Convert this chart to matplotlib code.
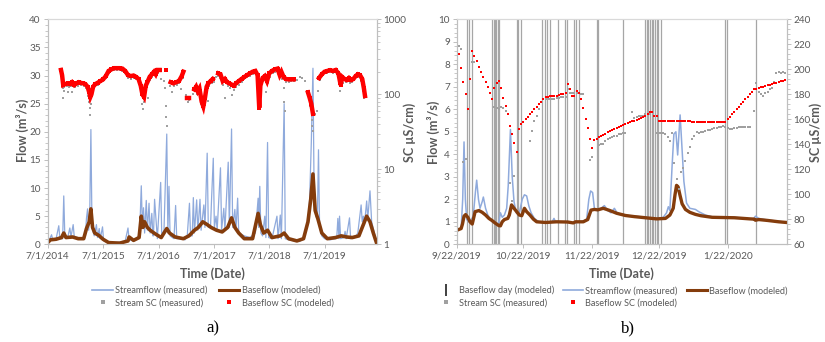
import matplotlib
matplotlib.use("Agg")
import matplotlib.pyplot as plt
import numpy as np
import pandas as pd
from matplotlib.lines import Line2D
from matplotlib.ticker import MultipleLocator, LogLocator, NullFormatter, FixedLocator

plt.rcParams["font.family"] = ["Lato", "DejaVu Sans"]

TXT = "#595959"
AXC = "#bfbfbf"
BLUE = "#8faadc"
BROWN = "#843c0c"
GRAY = "#a0a0a0"
RED = "#ff0000"

# ---------------- panel a (time in years after 7/1/2014) ----------------
start_a = pd.Timestamp("2014-07-01")

sf_a_yr = [0.00, 0.03, 0.07, 0.09, 0.15, 0.20, 0.22, 0.27, 0.29, 0.31, 0.36, 0.40, 0.42, 0.46, 0.48,
           0.55, 0.62, 0.68, 0.70, 0.72, 0.74, 0.76, 0.78, 0.80, 0.84, 0.88, 0.90, 0.93, 0.95, 0.99,
           1.01, 1.10, 1.20, 1.30, 1.40, 1.45, 1.47, 1.55, 1.62, 1.66, 1.69, 1.71, 1.73, 1.75, 1.78,
           1.80, 1.83, 1.85, 1.88, 1.90, 1.91, 1.93, 1.98, 2.04, 2.06, 2.10, 2.15, 2.17, 2.19, 2.21,
           2.28, 2.31, 2.33, 2.40, 2.48, 2.52, 2.56, 2.58, 2.61, 2.63, 2.65, 2.69, 2.71, 2.73, 2.75,
           2.77, 2.82, 2.84, 2.88, 2.90, 2.94, 2.96, 2.99, 3.01, 3.04, 3.06, 3.12, 3.14, 3.18, 3.20,
           3.26, 3.28, 3.32, 3.34, 3.38, 3.40, 3.43, 3.45, 3.55, 3.65, 3.75, 3.80, 3.81, 3.83, 3.85,
           3.88, 3.92, 3.94, 3.97, 3.99, 4.05, 4.14, 4.16, 4.20, 4.22, 4.27, 4.29, 4.35, 4.45, 4.55,
           4.62, 4.66, 4.70, 4.73, 4.76, 4.79, 4.81, 4.84, 4.87, 4.89, 4.91, 4.95, 5.00, 5.10, 5.20,
           5.22, 5.24, 5.26, 5.27, 5.29, 5.35, 5.37, 5.39, 5.45, 5.47, 5.55, 5.60, 5.66, 5.68, 5.70,
           5.72, 5.76, 5.78, 5.82, 5.85, 5.90, 5.94]
sf_a_q = [0.3, 0.8, 1.7, 0.8, 0.9, 3.3, 1.0, 1.0, 8.6, 1.2, 1.2, 2.9, 1.3, 3.5, 1.3,
          1.2, 1.0, 1.5, 4.6, 6.3, 2.5, 6.0, 20.4, 3.0, 1.5, 3.5, 1.2, 2.8, 1.0, 3.1,
          0.6, 0.4, 0.3, 0.4, 0.6, 2.9, 0.8, 0.6, 1.0, 2.0, 10.4, 3.0, 6.5, 2.0, 7.8,
          2.5, 7.3, 2.0, 5.5, 1.5, 1.5, 8.0, 1.0, 11.0, 1.5, 2.5, 19.6, 2.0, 10.3, 1.5,
          1.0, 6.9, 1.0, 1.0, 0.8, 1.5, 7.3, 1.5, 1.5, 8.3, 2.0, 7.9, 2.5, 5.0, 8.0,
          2.5, 7.0, 3.0, 16.2, 3.0, 3.0, 8.3, 15.3, 3.0, 5.0, 2.5, 13.6, 2.5, 6.4, 2.5,
          14.6, 3.0, 20.5, 3.0, 6.2, 2.5, 8.2, 2.0, 1.5, 1.2, 2.0, 8.2, 3.0, 10.3, 2.0,
          1.5, 5.0, 1.2, 18.1, 1.2, 1.0, 5.0, 1.0, 5.2, 1.0, 25.0, 1.0, 0.8, 0.6, 0.5,
          1.0, 2.5, 4.0, 8.0, 18.0, 31.3, 10.0, 5.0, 4.5, 16.8, 3.0, 1.5, 1.0, 0.8, 1.0,
          1.2, 4.6, 1.0, 5.0, 1.0, 1.2, 2.3, 1.0, 4.7, 1.0, 1.2, 2.0, 7.0, 4.0, 5.0,
          3.5, 7.7, 4.5, 9.5, 4.0, 2.0, 0.2]

bf_a_yr = [0.00, 0.05, 0.15, 0.25, 0.29, 0.33, 0.45, 0.55, 0.65, 0.70, 0.75, 0.78, 0.81, 0.85,
           0.92, 1.00, 1.10, 1.30, 1.45, 1.47, 1.55, 1.65, 1.69, 1.72, 1.75, 1.80, 1.85, 1.92,
           2.00, 2.05, 2.15, 2.20, 2.30, 2.45, 2.55, 2.65, 2.72, 2.80, 2.88, 2.95, 3.05, 3.15,
           3.25, 3.32, 3.38, 3.45, 3.55, 3.70, 3.80, 3.84, 3.90, 3.97, 4.05, 4.20, 4.27, 4.35,
           4.50, 4.62, 4.70, 4.75, 4.79, 4.83, 4.88, 4.95, 5.05, 5.20, 5.30, 5.40, 5.50, 5.62,
           5.70, 5.76, 5.82, 5.88, 5.94]
bf_a_q = [0.3, 0.8, 0.9, 1.2, 2.0, 1.2, 1.3, 1.0, 1.0, 2.8, 4.0, 6.3, 3.0, 2.0,
          1.6, 0.9, 0.3, 0.2, 0.6, 1.3, 0.7, 1.2, 5.0, 3.0, 4.0, 3.0, 2.5, 2.0,
          1.5, 1.2, 2.8, 2.0, 1.3, 1.0, 1.5, 2.5, 3.0, 4.0, 3.5, 3.0, 2.5, 2.2,
          3.0, 4.7, 3.0, 2.0, 1.0, 1.0, 5.5, 3.5, 2.0, 2.5, 1.2, 1.5, 2.0, 1.0,
          0.6, 1.0, 4.0, 8.0, 12.5, 6.0, 4.5, 2.0, 1.0, 1.2, 1.5, 1.3, 1.2, 1.5,
          3.5, 5.0, 4.0, 2.0, 0.2]

# baseflow SC (modeled), uS/cm
bsc_a_yr = [0.24, 0.26, 0.28, 0.32, 0.36, 0.40, 0.44, 0.48, 0.52, 0.56, 0.60, 0.64, 0.68, 0.72,
            0.75, 0.77, 0.79, 0.82, 0.86, 0.90, 0.95, 1.00, 1.05, 1.10, 1.15, 1.20, 1.25, 1.30,
            1.35, 1.40, 1.45, 1.50, 1.55, 1.60, 1.64, 1.68, 1.71, 1.74, 1.77, 1.80, 1.84, 1.88,
            1.92, 1.95, 1.98, 2.02, 2.13, 2.22, 2.27, 2.32, 2.37, 2.42, 2.45, 2.52, 2.55, 2.65,
            2.68, 2.71, 2.74, 2.78, 2.81, 2.84, 2.87, 2.90, 2.94, 2.98, 3.08, 3.12, 3.16, 3.20,
            3.24, 3.28, 3.32, 3.36, 3.40, 3.45, 3.50, 3.55, 3.60, 3.65, 3.70, 3.75, 3.79, 3.82,
            3.84, 3.88, 3.92, 3.96, 4.00, 4.05, 4.10, 4.15, 4.19, 4.22, 4.26, 4.30, 4.35, 4.40,
            4.44, 4.70, 4.73, 4.76, 4.79, 4.90, 4.95, 5.00, 5.05, 5.10, 5.15, 5.20, 5.25, 5.29,
            5.32, 5.36, 5.40, 5.44, 5.48, 5.52, 5.56, 5.60, 5.64, 5.68, 5.71, 5.73]
bsc_a_v = [211, 180, 133, 137, 140, 137, 145, 133, 140, 145, 142, 140, 137, 126,
           106, 92, 100, 126, 137, 142, 150, 158, 175, 205, 215, 223, 223, 223,
           220, 205, 180, 175, 178, 170, 160, 130, 100, 92, 130, 145, 170, 185,
           200, 185, 211, 211, 211, 145, 140, 145, 150, 175, 200, 89, 89, 116,
           126, 110, 120, 80, 69, 90, 126, 140, 150, 160, 190, 185, 150, 160,
           145, 140, 135, 130, 140, 150, 160, 170, 180, 190, 200, 205, 180, 66,
           130, 165, 175, 150, 190, 205, 215, 220, 180, 200, 170, 160, 158, 158,
           158, 106, 90, 75, 55, 165, 185, 200, 205, 210, 205, 211, 190, 133,
           170, 160, 155, 165, 155, 160, 175, 185, 180, 160, 120, 95]

# stream SC (measured)
ssc_a_yr = [0.24, 0.26, 0.27, 0.28, 0.29, 0.30, 0.34, 0.37, 0.38, 0.42, 0.44, 0.46, 0.50, 0.55,
            0.60, 0.65, 0.70, 0.73, 0.75, 0.76, 0.77, 0.79, 0.82, 0.86, 0.90, 0.95, 1.00, 1.05,
            1.10, 1.15, 1.20, 1.25, 1.30, 1.35, 1.40, 1.45, 1.50, 1.55, 1.60, 1.65, 1.68, 1.70,
            1.72, 1.74, 1.77, 1.80, 1.82, 1.84, 1.88, 1.92, 1.96, 2.00, 2.05, 2.10, 2.12, 2.13,
            2.14, 2.15, 2.20, 2.25, 2.28, 2.33, 2.38, 2.40, 2.44, 2.50, 2.53, 2.56, 2.62, 2.66,
            2.70, 2.74, 2.77, 2.80, 2.82, 2.86, 2.90, 2.92, 2.96, 3.00, 3.04, 3.08, 3.12, 3.16,
            3.20, 3.22, 3.26, 3.30, 3.33, 3.36, 3.40, 3.45, 3.50, 3.55, 3.60, 3.65, 3.70, 3.75,
            3.79, 3.81, 3.84, 3.88, 3.92, 3.95, 3.98, 4.02, 4.06, 4.10, 4.15, 4.20, 4.23, 4.26,
            4.27, 4.28, 4.30, 4.35, 4.40, 4.45, 4.50, 4.55, 4.60, 4.65, 4.70, 4.74, 4.77, 4.78,
            4.79, 4.82, 4.86, 4.88, 4.92, 4.96, 5.00, 5.05, 5.10, 5.15, 5.20, 5.25, 5.28, 5.30,
            5.34, 5.38, 5.42, 5.46, 5.50, 5.54, 5.58, 5.62, 5.66, 5.70, 5.72]
ssc_a_v = [200, 170, 120, 89, 110, 125, 130, 106, 125, 130, 106, 130, 125, 130,
           133, 130, 120, 95, 80, 65, 53, 75, 115, 130, 135, 145, 150, 165,
           195, 205, 210, 212, 210, 205, 190, 165, 160, 165, 158, 140, 100, 75,
           63, 80, 110, 130, 89, 155, 170, 185, 175, 190, 160, 150, 120, 70,
           50, 38, 130, 106, 130, 135, 140, 116, 165, 97, 80, 85, 100, 110,
           100, 105, 75, 63, 70, 110, 82, 130, 140, 145, 170, 175, 165, 135,
           89, 140, 130, 120, 97, 115, 125, 135, 148, 158, 168, 175, 185, 190,
           160, 69, 115, 150, 160, 106, 140, 170, 190, 200, 205, 185, 160, 120,
           80, 60, 145, 145, 150, 150, 155, 170, 165, 150, 95, 70, 45, 38,
           32, 55, 60, 110, 155, 175, 190, 195, 200, 195, 200, 175, 110, 150,
           140, 145, 155, 140, 145, 160, 175, 170, 150, 110, 89]

a_ticks = ["2014-07-01", "2015-07-01", "2016-07-01", "2017-07-01", "2018-07-01", "2019-07-01"]
a_tick_labels = ["7/1/2014", "7/1/2015", "7/1/2016", "7/1/2017", "7/1/2018", "7/1/2019"]

# ---------------- panel b (days after 9/22/2019) ----------------
start_b = pd.Timestamp("2019-09-22")

sf_b_day = [0, 1, 2, 2.7, 3.3, 3.9, 4.5, 5.5, 6.5, 7.5, 8.5, 9, 9.8, 10.5, 11.5, 12, 13, 14, 15, 16,
            17, 18, 19, 19.7, 20.5, 21.5, 22.5, 23.2, 24.2, 25, 25.8, 26.8, 28, 29.5, 30.5, 31.5,
            32.5, 33.5, 35, 37, 40, 43, 43.8, 44.5, 48, 50, 53, 56, 58.5, 59.5, 60.3, 61.2, 62,
            63.5, 65, 66.5, 68, 69.5, 71, 72.5, 75, 80, 85, 90, 93, 94.5, 95.3, 96, 97, 97.8,
            98.7, 99.5, 100.6, 101.5, 102.3, 103.5, 105, 107.5, 109, 112, 116, 125, 130, 133.5,
            134.5, 136, 140, 145, 148.5]
sf_b_q = [0.62, 0.65, 0.72, 2.0, 4.55, 2.0, 1.1, 1.0, 1.05, 1.3, 2.4, 2.85, 2.0, 1.6, 1.9, 2.1,
          1.6, 1.3, 1.15, 1.0, 0.95, 0.85, 1.0, 1.4, 1.2, 1.3, 1.6, 2.6, 5.1, 3.0, 1.9, 1.4, 1.3,
          2.0, 2.2, 2.15, 1.7, 1.4, 1.15, 1.0, 1.0, 1.0, 1.15, 1.0, 1.0, 0.98, 0.95, 1.0, 1.1,
          2.0, 2.37, 2.3, 1.6, 1.5, 1.6, 1.72, 1.5, 1.4, 1.6, 1.35, 1.3, 1.25, 1.2, 1.15, 1.2,
          1.4, 1.67, 1.5, 3.5, 4.9, 5.0, 3.97, 5.75, 4.2, 2.8, 1.83, 1.6, 1.55, 1.45, 1.3, 1.2,
          1.2, 1.15, 1.1, 1.25, 1.15, 1.08, 1.02, 0.98]

bf_b_day = [0, 1, 2, 2.6, 3.3, 4, 5, 6, 7, 7.7, 8.3, 10, 11.5, 13, 14.5, 16, 17.5, 19, 19.7, 20.5,
            21.5, 23, 23.7, 24.7, 25.8, 27, 28.2, 29.3, 30.5, 31.5, 33, 34.5, 36, 40, 45, 50,
            52.5, 53.5, 57, 59, 60.5, 62, 63.5, 66, 69, 72, 76, 80, 85, 90, 94, 96, 97.5, 98.3,
            99, 99.7, 100.5, 101.5, 103, 105, 107.5, 110, 115, 125, 132, 134, 134.5, 136, 140,
            145, 148.5]
bf_b_q = [0.62, 0.66, 0.7, 0.9, 1.25, 1.32, 1.2, 1.0, 0.9, 1.2, 1.45, 1.5, 1.42, 1.3, 1.15, 1.05,
          0.93, 0.83, 0.82, 1.0, 1.1, 1.15, 1.3, 1.75, 1.6, 1.45, 1.3, 1.27, 1.6, 1.45, 1.3, 1.12,
          1.0, 0.97, 1.0, 0.99, 0.95, 1.0, 1.0, 1.1, 1.52, 1.55, 1.53, 1.6, 1.5, 1.38, 1.28, 1.23,
          1.18, 1.13, 1.15, 1.3, 1.6, 2.2, 2.62, 2.55, 2.2, 1.8, 1.55, 1.42, 1.33, 1.27, 1.2,
          1.18, 1.13, 1.12, 1.07, 1.1, 1.06, 1.0, 0.97]

# daily values, day 0 .. 148
bsc_b = [221, 212, 201, 190, 180, 168, 192, 215, 211, 207, 202, 198, 194, 190, 186, 181, 176, 185,
         189, 191, 185, 177, 171, 164, 155, 148, 141, 134, 152, 156,
         158, 160, 162, 164, 166, 168, 170, 172, 174, 176, 178,
         178, 178.3, 178.5, 178.8, 179, 179.5, 180, 180.5, 181,
         188, 184, 179, 179, 183, 181, 176, 169, 160, 153, 144, 137,
         143.5, 144.5, 145.5, 146.5, 147.5, 148.5, 149.5, 150.5, 151.5, 152.3, 153, 153.8, 154.5,
         155.3, 156, 156.8, 157.5, 158.3, 159, 159.8, 160.5, 161.3, 162, 163, 164, 165.5, 166,
         163, 162.5, 158.8,
         158.7, 158.7, 158.6, 158.6, 158.6, 158.5, 158.5, 158.5, 158.4, 158.4, 158.4, 158.3,
         158.3, 158.3, 158.2, 158.2, 158.2, 158.1, 158.1, 158.1, 158.0, 158.0, 158.0, 157.9,
         157.9, 157.9, 157.8, 157.8, 157.8, 157.8,
         160, 162, 164, 166, 168, 170, 172, 174, 176, 178, 180, 182, 184,
         184.6, 185.1, 185.6, 186.2, 186.7, 187.2, 187.7, 188.3, 188.8, 189.3, 189.9, 190.4,
         190.9, 191.4]
nan = np.nan
ssc_b = [220, 219, 216, 126, 128, nan, nan, 206, 206, nan, nan, nan, nan, nan, nan, nan, nan, 170,
         169, 168, 170, 169, 167, nan, 109, 95, 115, nan, nan, nan,
         nan, nan, nan, 143, 151, 159, 163, 168, 174, 176, 176,
         176, 176, 176, 176.5, 177, 177, 177.5, 178, 178,
         184, 181, 181, 181, 181, 181, 180.5, 180, nan, nan, 127.5, 130,
         nan, nan, 139.5, 140, 140.5, 143, 144, 145, 146, 146.5, 147, 148, 148.5,
         149, 149, nan, nan, 166, 161, 162, 162.5, 163, 163, 164, 164, 164, nan,
         nan, 149, 149,
         149, 148.8, 148.5, 146, 143, 149, 125, 112, 104, 118, 121, 127, 133, 138, 144, 147,
         150, 149, 150, 150, 151, 151.5, 151.5, 152, 153, 153, 154, 154,
         154.5, 153.5, 153, 152.5, 152.5, 152.7, 153, 153.5, 153.7, 154, 154, 154, 154, nan, 167,
         189, 182, 180, 179, 181, 182, 184, 185, 190, 197, 198, 197, 198, 197]

# modeled baseflow days (vertical lines)
bf_days = [4.8, 5.5, 7.0, 16.0, 16.6, 17.3, 17.8, 18.5, 19.1, 27.0, 27.8, 28.8, 38.3, 39.8, 40.8,
           42.0, 45.8, 48.8, 49.8, 52.8, 53.7, 55.2, 63.1, 63.8, 75.0, 84.8, 85.6, 86.3, 87.1,
           87.8, 88.6, 89.3, 90.1, 90.8, 91.9, 120.8, 121.6, 134.7]

b_ticks = ["2019-09-22", "2019-10-22", "2019-11-22", "2019-12-22", "2020-01-22"]
b_tick_labels = ["9/22/2019", "10/22/2019", "11/22/2019", "12/22/2019", "1/22/2020"]


def yr_to_date(yrs):
    return start_a + pd.to_timedelta(np.array(yrs) * 365.25, unit="D")


def day_to_date(days):
    return start_b + pd.to_timedelta(np.array(days, dtype=float), unit="D")


def style_axes(ax, ax2):
    for a in (ax, ax2):
        for s in a.spines.values():
            s.set_color(AXC)
            s.set_linewidth(0.8)
        a.spines["top"].set_color("#d9d9d9")
        a.tick_params(which="both", colors=AXC, labelcolor=TXT, labelsize=7.2)
        a.tick_params(which="major", length=3, width=0.7, pad=2)
        a.tick_params(which="minor", length=2, width=0.6)


W, H = 825, 342
fig = plt.figure(figsize=(8.25, 3.42), dpi=100)
ax_a = fig.add_axes([47.7 / W, (H - 244.3) / H, 329 / W, 225 / H])
ax_b = fig.add_axes([456.7 / W, (H - 244.3) / H, 330 / W, 225 / H])

# ---- panel a
ax_a.plot(yr_to_date(sf_a_yr), sf_a_q, color=BLUE, lw=0.9, zorder=2)
ax_a.plot(yr_to_date(bf_a_yr), bf_a_q, color=BROWN, lw=2.6, zorder=3)
ax_a.set_ylim(0, 40)
ax_a.yaxis.set_major_locator(MultipleLocator(5))
ax_a.yaxis.set_minor_locator(MultipleLocator(1))
ax_a.set_xlim(pd.Timestamp("2014-07-01"), pd.Timestamp("2020-06-09"))
ax_a.xaxis.set_major_locator(FixedLocator([matplotlib.dates.date2num(pd.Timestamp(t)) for t in a_ticks]))
ax_a.set_xticklabels(a_tick_labels)

ax_a2 = ax_a.twinx()
ax_a2.plot(yr_to_date(ssc_a_yr), ssc_a_v, ls="none", marker="s", ms=2.0, mew=0, color=GRAY)
# the daily red dots form a continuous band; join neighbouring points, break at data gaps
t_red = np.array(bsc_a_yr)
v_red = np.array(bsc_a_v, dtype=float)
breaks = np.where(np.diff(t_red) > 0.06)[0] + 1
for seg_t, seg_v in zip(np.split(t_red, breaks), np.split(v_red, breaks)):
    ax_a2.plot(yr_to_date(seg_t), seg_v, color=RED, lw=3.2, solid_joinstyle="miter")
ax_a2.plot(yr_to_date(bsc_a_yr), bsc_a_v, ls="none", marker="s", ms=2.4, mew=0, color=RED)
ax_a2.set_yscale("log")
ax_a2.set_ylim(1, 1000)
ax_a2.yaxis.set_major_locator(FixedLocator([1, 10, 100, 1000]))
ax_a2.set_yticklabels(["1", "10", "100", "1000"])
ax_a2.yaxis.set_minor_locator(LogLocator(base=10, subs=np.arange(2, 10)))
ax_a2.yaxis.set_minor_formatter(NullFormatter())
style_axes(ax_a, ax_a2)

# ---- panel b
for d in bf_days:
    ax_b.axvline(day_to_date([d])[0], color="#a6a6a6", lw=0.9, zorder=1)
ax_b.plot(day_to_date(sf_b_day), sf_b_q, color=BLUE, lw=1.1, zorder=2)
ax_b.plot(day_to_date(bf_b_day), bf_b_q, color=BROWN, lw=2.4, zorder=3)
ax_b.set_ylim(0, 10)
ax_b.yaxis.set_major_locator(MultipleLocator(1))
ax_b.yaxis.set_minor_locator(MultipleLocator(0.2))
ax_b.set_xlim(start_b, start_b + pd.Timedelta(days=148.6))
ax_b.xaxis.set_major_locator(FixedLocator([matplotlib.dates.date2num(pd.Timestamp(t)) for t in b_ticks]))
ax_b.set_xticklabels(b_tick_labels)

ax_b2 = ax_b.twinx()
days_all = day_to_date(np.arange(len(bsc_b)))
ax_b2.plot(days_all, ssc_b, ls="none", marker="s", ms=1.6, mew=0, color=GRAY)
ax_b2.plot(days_all, bsc_b, ls="none", marker="s", ms=2.0, mew=0, color=RED)
ax_b2.set_ylim(60, 240)
ax_b2.yaxis.set_major_locator(MultipleLocator(20))
ax_b2.yaxis.set_minor_locator(MultipleLocator(4))
style_axes(ax_b, ax_b2)

# ---- axis titles
lab = dict(fontsize=9, fontweight="bold", color=TXT, ha="center", va="center")
fig.text(22 / W, 1 - 130 / H, "Flow (m³/s)", rotation=90, **lab)
fig.text(410 / W, 1 - 132 / H, "SC µS/cm)", rotation=90, **lab)
fig.text(433 / W, 1 - 132 / H, "Flow (m³/s)", rotation=90, **lab)
fig.text(816 / W, 1 - 132 / H, "SC µS/cm)", rotation=90, **lab)
fig.text(212 / W, 1 - 274 / H, "Time (Date)", **lab)
fig.text(621 / W, 1 - 274 / H, "Time (Date)", **lab)

# ---- legends
h_sf = Line2D([], [], color=BLUE, lw=1.2)
h_bf = Line2D([], [], color=BROWN, lw=2.2)
h_ssc = Line2D([], [], ls="none", marker="s", ms=3.5, mew=0, color=GRAY)
h_bsc = Line2D([], [], ls="none", marker="s", ms=3.5, mew=0, color=RED)
h_day = Line2D([], [], ls="none", marker="|", ms=8, mew=1.4, color="#404040")

leg_kw = dict(loc="center", frameon=False, fontsize=6.6, labelcolor=TXT, handlelength=2.2,
              handletextpad=0.25, labelspacing=0.35, borderaxespad=0, borderpad=0)
fig.legend([h_sf, h_ssc, h_bf, h_bsc],
           ["Streamflow (measured)", "Stream SC (measured)", "Baseflow (modeled)", "Baseflow SC (modeled)"],
           ncol=2, columnspacing=1.3, bbox_to_anchor=(213 / W, 1 - 296.5 / H), **leg_kw)
fig.legend([h_day, h_ssc, h_sf, h_bsc, h_bf],
           ["Baseflow day (modeled)", "Stream SC (measured)", "Streamflow (measured)",
            "Baseflow SC (modeled)", "Baseflow (modeled)"],
           ncol=3, columnspacing=1.0, bbox_to_anchor=(612 / W, 1 - 296.5 / H), **leg_kw)

fig.text(213 / W, 1 - 328 / H, "a)", fontsize=12, family="Liberation Serif", ha="center", va="center")
fig.text(628 / W, 1 - 328 / H, "b)", fontsize=12, family="Liberation Serif", ha="center", va="center")

fig.savefig("out.png", dpi=100)
